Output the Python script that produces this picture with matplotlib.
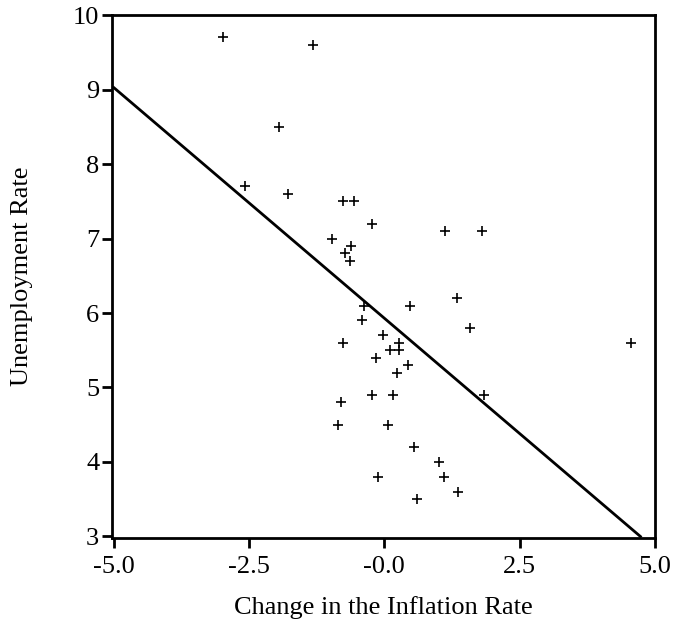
import matplotlib
matplotlib.use("Agg")
import matplotlib.pyplot as plt
import numpy as np

plt.rcParams['font.family'] = ['Liberation Serif', 'DejaVu Serif']

# change in inflation rate (x) vs unemployment rate (y)
infl_change = [-2.98, -1.31, -1.94, -2.57, -1.79, -0.77, -0.56, -0.23, -0.97, -0.62,
               -0.72, -0.64, 1.12, 1.81, -0.38, -0.41, 0.48, 1.35, 1.59, 4.56,
               -0.77, -0.02, 0.27, 0.10, 0.27, -0.15, 0.43, 0.23, -0.23, 0.16,
               1.85, -0.80, -0.86, 0.06, 0.54, 1.01, 1.10, -0.12, 1.36, 0.60]
unemp = [9.7, 9.6, 8.5, 7.7, 7.6, 7.5, 7.5, 7.2, 7.0, 6.9,
         6.8, 6.7, 7.1, 7.1, 6.1, 5.9, 6.1, 6.2, 5.8, 5.6,
         5.6, 5.7, 5.6, 5.5, 5.5, 5.4, 5.3, 5.2, 4.9, 4.9,
         4.9, 4.8, 4.5, 4.5, 4.2, 4.0, 3.8, 3.8, 3.6, 3.5]

# fitted line
intercept = 5.93
slope = -0.619

xticks = [-5.0, -2.5, 0.0, 2.5, 5.0]
xtick_labels = ['-5.0', '-2.5', '-0.0', '2.5', '5.0']
yticks = [3, 4, 5, 6, 7, 8, 9, 10]

fig = plt.figure(figsize=(6.73, 6.27), dpi=100)
ax = fig.add_axes([0.166, 0.142, 0.807, 0.834])

ax.plot(infl_change, unemp, '+', color='black', markersize=7.5, mew=1.2)

xs = np.array([-5.0, (3.0 - intercept) / slope])
ax.plot(xs, intercept + slope * xs, color='black', lw=2)

ax.set_xlim(-5.04, 5.0)
ax.set_ylim(2.98, 10.0)
ax.set_xticks(xticks)
ax.set_xticklabels(xtick_labels)
ax.set_yticks(yticks)

for s in ax.spines.values():
    s.set_linewidth(2)
ax.tick_params(direction='out', length=7, width=2, labelsize=19)
ax.tick_params(axis='x', pad=6)
ax.tick_params(axis='y', pad=2)

ax.set_xlabel('Change in the Inflation Rate', fontsize=19, labelpad=13)
ax.set_ylabel('Unemployment Rate', fontsize=19, labelpad=29)

fig.savefig('out.png', dpi=100)
